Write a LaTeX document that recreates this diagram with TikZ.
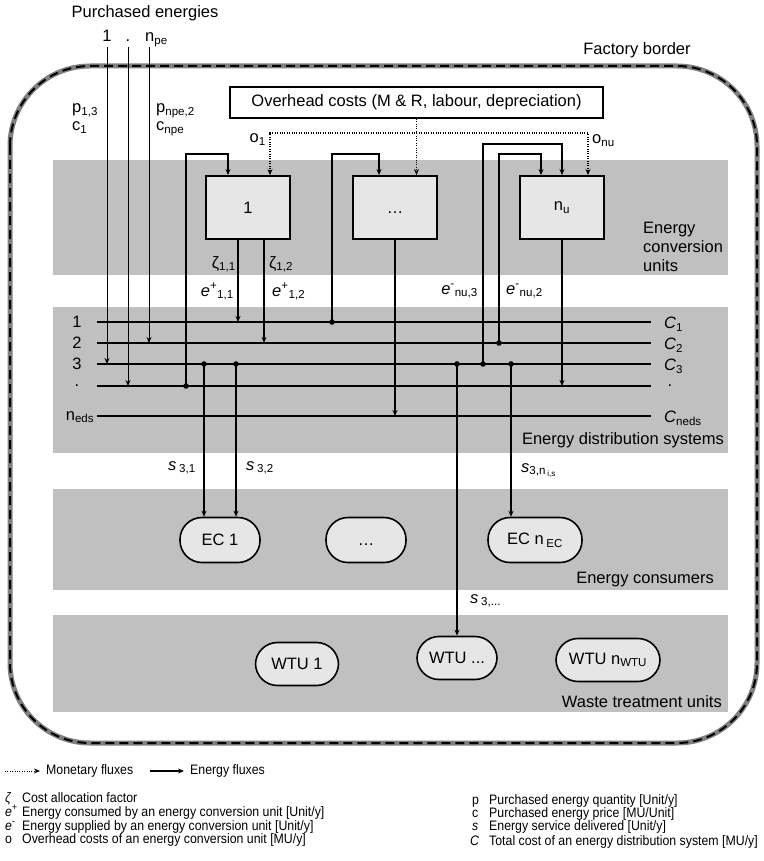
\documentclass[tikz,border=0pt]{standalone}
\usepackage{fontspec}
\setmainfont{Liberation Sans}
\newfontfamily\legendfont[FakeStretch=0.9]{Liberation Sans}
\usetikzlibrary{arrows.meta}
\definecolor{bandgray}{HTML}{C0C0C0}
\definecolor{boxgray}{HTML}{E6E6E6}
\definecolor{rimgray}{HTML}{808080}
\newcommand{\sbs}[1]{\textsubscript{#1}}
\newcommand{\sps}[1]{\textsuperscript{#1}}
\begin{document}
\begin{tikzpicture}[x=1pt,y=-1pt,
  font=\fontsize{16.5}{19}\selectfont,
  band/.style={fill=bandgray},
  ecu/.style={draw,line width=1.8pt,fill=boxgray,minimum width=84pt,minimum height=63pt,inner sep=0pt},
  pill/.style={draw,line width=1.6pt,fill=boxgray,rounded corners=22pt,inner sep=0pt,minimum height=45pt},
  bus/.style={line width=2pt},
  eflow/.style={line width=1.5pt,-{Stealth[length=6pt,width=5pt]}},
  pflow/.style={line width=1pt,-{Stealth[length=6pt,width=5pt]}},
  mflow/.style={line width=1.2pt,dash pattern=on 1pt off 1.4pt,-{Stealth[length=6pt,width=5pt]}},
  mflowtwo/.style={mflow,{Stealth[length=6pt,width=5pt]}-{Stealth[length=6pt,width=5pt]}},
  lbl/.style={inner sep=0pt},
  legend/.style={inner sep=0pt,text height=9pt,text depth=2.5pt,font=\legendfont\fontsize{13.7}{15}\selectfont},
]
\useasboundingbox (0,0) rectangle (763,861);

% layer bands
\fill[band] (53,160) rectangle (728,275);
\fill[band] (53,307) rectangle (728,453);
\fill[band] (53,489) rectangle (728,590);
\fill[band] (53,615) rectangle (728,712);

% factory border
\draw[rimgray,line width=5pt,rounded corners=80pt] (10,66) rectangle (757,743);
\draw[line width=2pt,dash pattern=on 9pt off 5pt,rounded corners=80pt] (10,66) rectangle (757,743);

\node[lbl,anchor=base] (pehead) at (145,18) {Purchased energies};
\node[lbl,anchor=base] (fb) at (637,55) {Factory border};

% distribution buses
\foreach \n/\y in {1/322,2/343,3/364,4/386,5/416}{
  \coordinate (bw\n) at (97,\y);
  \coordinate (be\n) at (651,\y);
  \draw[bus] (bw\n) -- (be\n);
}
\node[lbl] at ([xshift=-20pt]bw1) {1};
\node[lbl] at ([xshift=-20pt]bw2) {2};
\node[lbl] at ([xshift=-20pt]bw3) {3};
\node[lbl] at ([xshift=-20pt]bw4) {.};
\node[lbl] at ([xshift=-17pt,yshift=-1pt]bw5) {n\sbs{eds}};
\node[lbl,anchor=west] at ([xshift=13pt,yshift=-2pt]be1) {\textit{C}\sbs{1}};
\node[lbl,anchor=west] at ([xshift=13pt,yshift=-2pt]be2) {\textit{C}\sbs{2}};
\node[lbl,anchor=west] at ([xshift=13pt,yshift=-2pt]be3) {\textit{C}\sbs{3}};
\node[lbl] at ([xshift=19pt]be4) {.};
\node[lbl,anchor=west] at ([xshift=13pt,yshift=-2pt]be5) {\textit{C}\sbs{neds}};

% purchased energies
\coordinate (pe1) at (107,47);
\coordinate (pe2) at (128,47);
\coordinate (pe3) at (149,47);
\node[lbl,anchor=base] at ([yshift=5pt]pe1) {1};
\node[lbl,anchor=base] at ([yshift=5pt]pe2) {.};
\node[lbl,anchor=base west] at ([shift={(-4pt,5pt)}]pe3) {n\sbs{pe}};
\draw[pflow] (pe1) -- (pe1 |- bw3);
\draw[pflow] (pe2) -- (pe2 |- bw4);
\draw[pflow] (pe3) -- (pe3 |- bw2);
\node[lbl,anchor=base west] at (72,113) {p\sbs{1,3}};
\node[lbl,anchor=base west] at (72,131) {c\sbs{1}};
\node[lbl,anchor=base west] at (156,113) {p\sbs{npe,2}};
\node[lbl,anchor=base west] at (156,131) {c\sbs{npe}};

% overhead costs and conversion units
\node[draw,line width=1.8pt,minimum width=373pt,minimum height=31pt,inner sep=0pt] (ovh) at (416.5,102.5)
  {Overhead costs (M \& R, labour, depreciation)};
\node[ecu] (u1) at (248,207.5) {1};
\node[ecu] (u2) at (395,207.5) {\vphantom{1}\textellipsis};
\node[ecu] (u3) at (562,207.5) {n\sbs{u}};
\node[lbl,anchor=north west,align=left] at (643,222) {Energy\\conversion\\units};

% monetary fluxes
\coordinate (obar) at (0,133);
\coordinate (m1) at ([xshift=22pt]u1.north);
\coordinate (m3) at ([xshift=26pt]u3.north);
\draw[mflow] (ovh.south) -- (ovh.south |- u2.north);
\draw[mflowtwo] (m1) |- (m3 |- obar) -- (m3);
\node[lbl,anchor=base east] at (266,143) {o\sbs{1}};
\node[lbl,anchor=base west] at (592,144) {o\sbs{nu}};

% junctions on the buses
\coordinate (jA) at (186,386);
\coordinate (jB) at (332,322);
\coordinate (jC) at (499,343);
\coordinate (jD) at (483,364);
\coordinate (jE) at (204,364);
\coordinate (jF) at (236,364);
\coordinate (jG) at (457,364);
\coordinate (jH) at (511,364);

% energy fed back into the conversion units
\coordinate (in1) at ([xshift=-20pt]u1.north);
\coordinate (in2) at ([xshift=-16pt]u2.north);
\coordinate (in3a) at ([xshift=-21pt]u3.north);
\coordinate (in3b) at (u3.north);
\draw[eflow] (jA) |- ([yshift=21pt]in1) -- (in1);
\draw[eflow] (jB) |- ([yshift=21pt]in2) -- (in2);
\draw[eflow] (jC) |- ([yshift=21pt]in3a) -- (in3a);
\draw[eflow] (jD) |- ([yshift=31pt]in3b) -- (in3b);

% energy supplied by the conversion units
\draw[eflow] ([xshift=-10pt]u1.south) -- ([xshift=-10pt]u1.south |- bw1);
\draw[eflow] ([xshift=16pt]u1.south) -- ([xshift=16pt]u1.south |- bw2);
\draw[eflow] (u2.south) -- (u2.south |- bw5);
\draw[eflow] (u3.south) -- (u3.south |- bw4);
\node[lbl,anchor=base east] at (236,268) {ζ\sbs{1,1}};
\node[lbl,anchor=base west] at (269,268) {ζ\sbs{1,2}};
\node[lbl,anchor=base east] at (234,296) {\textit{e}\sps{+}\sbs{1,1}};
\node[lbl,anchor=base west] at (272,296) {\textit{e}\sps{+}\sbs{1,2}};
\node[lbl,anchor=base east] at (478,294) {\textit{e}\sps{-}\sbs{nu,3}};
\node[lbl,anchor=base west] at (506,294) {\textit{e}\sps{-}\sbs{nu,2}};

% consumers and waste treatment
\node[pill,minimum width=80pt] (ec1) at (220,540) {EC 1};
\node[pill,minimum width=80pt] (ec2) at (366,540) {\vphantom{E}\textellipsis};
\node[pill,minimum width=94pt] (ec3) at (535,540) {EC n\,\sbs{EC}};
\node[pill,minimum width=83pt,minimum height=43pt] (w1) at (297,664) {WTU 1};
\node[pill,minimum width=80pt,minimum height=43pt] (w2) at (457,658) {WTU ...};
\node[pill,minimum width=104pt,minimum height=43pt] (w3) at (608,660) {WTU n\sbs{WTU}};
\node[lbl,anchor=base east] at (724,444) {Energy distribution systems};
\node[lbl,anchor=base east] at (714,583) {Energy consumers};
\node[lbl,anchor=base east] at (722,707) {Waste treatment units};

\draw[eflow] (jE) -- (jE |- ec1.north);
\draw[eflow] (jF) -- (jF |- ec1.north);
\draw[eflow] (jH) -- (jH |- ec3.north);
\draw[eflow] (jG) -- (jG |- w2.north);
\node[lbl,anchor=base east] at (196,470) {\textit{s}\,\sbs{3,1}};
\node[lbl,anchor=base west] at (246,470) {\textit{s}\,\sbs{3,2}};
\node[lbl,anchor=base west] at (521,472) {\textit{s}\sbs{3,n\,\textsubscript{i,s}}};
\node[lbl,anchor=base west] at (470,603) {\textit{s}\,\sbs{3,...}};

\foreach \j in {jA,jB,jC,jD,jE,jF,jG,jH}{\fill (\j) circle (2.8pt);}

% legend
\coordinate (lma) at (5,771);
\coordinate (lmb) at (40,771);
\coordinate (lea) at (150,771);
\coordinate (leb) at (184,771);
\draw[mflow,line width=1pt] (lma) -- (lmb);
\draw[eflow,line width=1.2pt] (lea) -- (leb);
\node[legend,anchor=west] at ([xshift=6pt]lmb) {Monetary fluxes};
\node[legend,anchor=west] at ([xshift=6pt]leb) {Energy fluxes};

\node[legend,anchor=base west] at (5,802) {\itshape ζ};
\node[legend,anchor=base west] at (22,802) {Cost allocation factor};
\node[legend,anchor=base west] at (5,816) {\textit{e}\textsuperscript{+}};
\node[legend,anchor=base west] at (22,816) {Energy consumed by an energy conversion unit [Unit/y]};
\node[legend,anchor=base west] at (5,830) {\textit{e}\textsuperscript{-}};
\node[legend,anchor=base west] at (22,830) {Energy supplied by an energy conversion unit [Unit/y]};
\node[legend,anchor=base west] at (5,843) {o};
\node[legend,anchor=base west] at (22,843) {Overhead costs of an energy conversion unit [MU/y]};

\node[legend,anchor=base west] at (472,804) {p};
\node[legend,anchor=base west] at (489,804) {Purchased energy quantity [Unit/y]};
\node[legend,anchor=base west] at (472,817) {c};
\node[legend,anchor=base west] at (489,817) {Purchased energy price [MU/Unit]};
\node[legend,anchor=base west] at (472,830) {\textit{s}};
\node[legend,anchor=base west] at (489,830) {Energy service delivered [Unit/y]};
\node[legend,anchor=base west] at (470,845) {\textit{C}};
\node[legend,anchor=base west] at (489,845) {Total cost of an energy distribution system [MU/y]};
\end{tikzpicture}
\end{document}
